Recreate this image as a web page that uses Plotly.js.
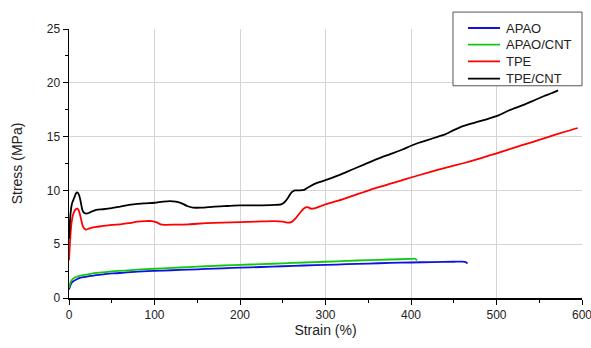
<!DOCTYPE html>
<html>
<head>
<meta charset="utf-8">
<script src="https://cdn.plot.ly/plotly-3.0.1.min.js"></script>
<style>html,body{margin:0;padding:0;background:#fff;}#chart{width:591px;height:348px;}</style>
</head>
<body>
<div id="chart"></div>
<script>
// APAO
var apaoX = [0, 1, 2, 3, 5, 8, 12, 18, 25, 35, 50, 65, 80, 100, 120, 140, 160, 180, 200, 225, 250, 275, 300, 325, 350, 375, 400, 425, 450, 460, 464, 466];
var apaoY = [0.8, 1.05, 1.25, 1.4, 1.55, 1.7, 1.85, 1.95, 2.05, 2.15, 2.28, 2.35, 2.45, 2.52, 2.58, 2.63, 2.7, 2.76, 2.82, 2.88, 2.95, 3.02, 3.08, 3.14, 3.2, 3.26, 3.3, 3.34, 3.37, 3.38, 3.33, 3.2];
// APAO/CNT
var apaoCntX = [0, 1, 2, 3, 5, 8, 12, 18, 25, 35, 50, 65, 80, 100, 120, 140, 160, 180, 200, 225, 250, 275, 300, 325, 350, 375, 400, 405, 407];
var apaoCntY = [0.95, 1.25, 1.5, 1.65, 1.8, 1.95, 2.05, 2.15, 2.25, 2.35, 2.47, 2.55, 2.63, 2.72, 2.8, 2.87, 2.95, 3.02, 3.08, 3.15, 3.22, 3.3, 3.37, 3.45, 3.52, 3.58, 3.63, 3.65, 3.5];
// TPE
var tpeX = [0, 1, 2, 3, 4, 5, 6, 7, 8, 9, 10, 11, 12, 13, 14, 15, 16, 18, 20, 23, 27, 32, 40, 50, 60, 70, 80, 90, 97, 102, 107, 112, 125, 140, 160, 180, 200, 220, 240, 250, 256, 260, 265, 270, 275, 279, 283, 288, 295, 300, 315, 330, 345, 360, 375, 390, 400, 420, 440, 460, 480, 500, 520, 540, 560, 580, 595];
var tpeY = [3.5, 5.0, 6.2, 7.0, 7.5, 7.8, 8.0, 8.15, 8.25, 8.3, 8.3, 8.2, 8.0, 7.7, 7.35, 7.0, 6.7, 6.45, 6.35, 6.45, 6.55, 6.6, 6.7, 6.8, 6.85, 6.95, 7.1, 7.15, 7.15, 7.05, 6.85, 6.8, 6.82, 6.85, 6.95, 7.0, 7.05, 7.1, 7.15, 7.1, 7.0, 7.05, 7.4, 7.9, 8.35, 8.45, 8.3, 8.35, 8.55, 8.7, 9.05, 9.45, 9.85, 10.25, 10.6, 10.95, 11.2, 11.65, 12.1, 12.5, 12.95, 13.45, 13.95, 14.45, 14.95, 15.45, 15.8];
// TPE/CNT
var tpeCntX = [0, 1, 2, 3, 4, 5, 6, 7, 8, 9, 10, 11, 12, 13, 14, 15, 16, 18, 20, 23, 27, 32, 40, 50, 60, 70, 80, 90, 100, 110, 118, 125, 132, 138, 145, 155, 170, 185, 200, 220, 240, 248, 252, 256, 260, 264, 270, 275, 280, 290, 300, 315, 330, 345, 360, 375, 390, 400, 410, 420, 430, 440, 450, 460, 475, 490, 503, 515, 530, 542, 555, 565, 572];
var tpeCntY = [5.5, 7.0, 8.0, 8.6, 8.9, 9.1, 9.3, 9.5, 9.7, 9.8, 9.8, 9.7, 9.5, 9.2, 8.8, 8.4, 8.1, 7.9, 7.85, 7.9, 8.05, 8.2, 8.25, 8.35, 8.5, 8.65, 8.75, 8.8, 8.85, 8.95, 9.0, 8.95, 8.8, 8.55, 8.4, 8.4, 8.5, 8.55, 8.6, 8.6, 8.65, 8.7, 8.9, 9.3, 9.8, 10.0, 10.0, 10.05, 10.3, 10.7, 10.95, 11.4, 11.9, 12.4, 12.9, 13.35, 13.8, 14.15, 14.45, 14.7, 14.95, 15.2, 15.6, 15.95, 16.3, 16.65, 17.0, 17.45, 17.9, 18.3, 18.75, 19.05, 19.3];

var seriesNames = ['APAO', 'APAO/CNT', 'TPE', 'TPE/CNT'];
var seriesColors = ['#1010e0', '#10c810', '#ff0000', '#000000'];
var xs = [apaoX, apaoCntX, tpeX, tpeCntX];
var ys = [apaoY, apaoCntY, tpeY, tpeCntY];

var traces = seriesNames.map(function(n, i) {
  return {x: xs[i], y: ys[i], name: n, type: 'scatter', mode: 'lines', showlegend: false,
          line: {color: seriesColors[i], width: 1.8, shape: 'spline', smoothing: 0.6}};
});

var fam = 'Liberation Sans, Arial, sans-serif';

// legend box (paper coordinates), drawn with shapes + annotations
var shapes = [{type: 'rect', xref: 'paper', yref: 'paper', x0: 0.7485, x1: 1.0, y0: 0.789, y1: 1.063,
               line: {color: '#555', width: 1}, fillcolor: '#fff', layer: 'above'}];
var annotations = [];
var rowY = [1.0037, 0.9416, 0.8796, 0.8152];
seriesNames.forEach(function(n, i) {
  shapes.push({type: 'line', xref: 'paper', yref: 'paper', x0: 0.7778, x1: 0.8402, y0: rowY[i], y1: rowY[i],
               line: {color: seriesColors[i], width: 1.8}, layer: 'above'});
  annotations.push({xref: 'paper', yref: 'paper', x: 0.848, y: rowY[i], xanchor: 'left', yanchor: 'middle',
                    text: n, showarrow: false, font: {family: fam, size: 13, color: '#222'}});
});

var layout = {
  width: 591, height: 348,
  margin: {l: 69, r: 9, t: 29, b: 50},
  paper_bgcolor: '#fff', plot_bgcolor: '#fff',
  font: {family: fam, size: 12, color: '#222'},
  showlegend: false,
  shapes: shapes,
  annotations: annotations,
  xaxis: {range: [0, 600], dtick: 100, tick0: 0, ticks: 'outside', ticklen: 5, tickwidth: 1, tickcolor: '#000',
          ticklabeloverflow: 'allow',
          showline: true, linecolor: '#000', linewidth: 1.5, mirror: false, automargin: false,
          showgrid: true, gridcolor: '#d8d4d4', gridwidth: 1, zeroline: false,
          tickfont: {family: fam, size: 12, color: '#222'},
          minor: {dtick: 50, ticks: 'outside', ticklen: 3, tickcolor: '#000', showgrid: false},
          title: {text: 'Strain (%)', font: {family: fam, size: 14, color: '#222'}, standoff: 2}},
  yaxis: {range: [0, 25], dtick: 5, tick0: 0, ticks: 'outside', ticklen: 5, tickwidth: 1, tickcolor: '#000',
          ticklabeloverflow: 'allow',
          showline: true, linecolor: '#000', linewidth: 1.5, mirror: false,
          showgrid: true, gridcolor: '#d8d4d4', gridwidth: 1, zeroline: false,
          tickfont: {family: fam, size: 12, color: '#222'},
          minor: {dtick: 2.5, ticks: 'outside', ticklen: 3, tickcolor: '#000', showgrid: false},
          title: {text: 'Stress (MPa)', font: {family: fam, size: 14, color: '#222'}, standoff: 21}}
};

Plotly.newPlot('chart', traces, layout, {displayModeBar: false, staticPlot: true});
</script>
</body>
</html>
